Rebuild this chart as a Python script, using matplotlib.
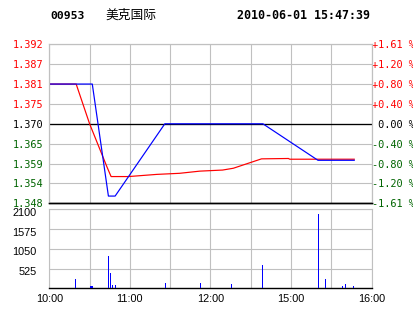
import matplotlib
matplotlib.use('Agg')
import matplotlib.pyplot as plt
import matplotlib.transforms as mtrans
import numpy as np

# --- data (minutes since 10:00, lunch break removed) ---
price_min = [0, 32, 44, 49, 86, 159, 200, 227]
price_val = [1.381, 1.381, 1.350, 1.350, 1.370, 1.370, 1.3599, 1.3599]

avg_min = [0, 20, 30, 43, 46, 59, 80, 97, 112, 129, 137, 158, 178, 179, 227]
avg_val = [1.381, 1.381, 1.370, 1.358, 1.3554, 1.3554, 1.3560, 1.3563, 1.3569,
           1.3572, 1.3577, 1.3603, 1.3604, 1.3602, 1.3602]

vol_min = [19, 30, 31, 32, 44, 45, 47, 49, 86, 112, 135, 158, 200, 205, 218, 220, 226]
vol_val = [250, 60, 60, 60, 860, 420, 100, 100, 140, 140, 110, 620, 1980, 250, 60, 110, 60]

price_labels = ['1.392', '1.387', '1.381', '1.375', '1.370', '1.365', '1.359', '1.354', '1.348']
pct_labels = ['+1.61 %', '+1.20 %', '+0.80 %', '+0.40 %', ' 0.00 %',
              '-0.40 %', '-0.80 %', '-1.20 %', '-1.61 %']
vol_ticks = [525, 1050, 1575, 2100]
time_labels = ['10:00', '', '11:00', '', '12:00', '', '15:00', '', '16:00']

PRE_CLOSE = 1.370
LOW, HIGH = 1.348, 1.392
GRID = '#c0c0c0'
RED = '#ff0000'
GREEN = '#006400'
PX = 0.72  # one pixel in points at dpi 100

W, H = 414, 314
fig = plt.figure(figsize=(W / 100, H / 100), dpi=100)
fig.patch.set_facecolor('white')

ax = fig.add_axes([49.3 / W, 1 - 203.3 / H, 322.4 / W, 159 / H])
axv = fig.add_axes([49.3 / W, 1 - 288.3 / H, 322.4 / W, 79 / H])

xt = np.arange(0, 241, 30)

# price panel
ax.plot(avg_min, avg_val, color=RED, lw=PX * 1.2, zorder=3)
ax.plot(price_min, price_val, color='#0000ff', lw=PX * 1.2, zorder=4)
ax.axhline(PRE_CLOSE, color='black', lw=PX * 1.3, zorder=2)
ax.set_xlim(0, 240)
ax.set_ylim(LOW, HIGH)
ax.set_xticks(xt)
ax.set_xticklabels([])
yt = np.linspace(HIGH, LOW, 9)
ax.set_yticks(yt)
ax.set_yticklabels(price_labels, fontfamily='DejaVu Sans Mono', fontsize=7.4)
ax.grid(True, color=GRID, lw=PX * 1.1)
ax.tick_params(length=0, pad=4)
for i, lab in enumerate(ax.get_yticklabels()):
    lab.set_color(RED if i < 4 else ('black' if i == 4 else GREEN))

ax2 = ax.twinx()
ax2.set_ylim(LOW, HIGH)
ax2.set_yticks(yt)
ax2.set_yticklabels(pct_labels, fontfamily='DejaVu Sans Mono', fontsize=7.4)
ax2.tick_params(length=0, pad=0)
for i, lab in enumerate(ax2.get_yticklabels()):
    lab.set_color(RED if i < 4 else ('black' if i == 4 else GREEN))

for a in (ax, ax2):
    for s in ('left', 'right', 'top'):
        a.spines[s].set_color(GRID)
        a.spines[s].set_linewidth(PX * 1.1)
    a.spines['bottom'].set_color('black')
    a.spines['bottom'].set_linewidth(PX * 1.4)

# volume panel
axv.vlines(vol_min, 0, vol_val, color='#0000ff', lw=PX, antialiased=False, zorder=3)
axv.set_xlim(0, 240)
axv.set_ylim(0, 2100)
axv.set_xticks(xt)
axv.set_xticklabels(time_labels, fontfamily='Liberation Sans', fontsize=7.8)
axv.set_yticks(vol_ticks)
axv.set_yticklabels([str(v) for v in vol_ticks], fontfamily='Liberation Sans', fontsize=7.8)
axv.grid(True, color=GRID, lw=PX * 1.1)
axv.tick_params(length=0)
axv.tick_params(axis='y', pad=9)
axv.tick_params(axis='x', pad=4)
off = mtrans.ScaledTranslation(0, -0.025, fig.dpi_scale_trans)
for lab in axv.get_yticklabels():
    lab.set_transform(lab.get_transform() + off)
for s in ('left', 'right', 'top'):
    axv.spines[s].set_color(GRID)
    axv.spines[s].set_linewidth(PX * 1.1)
axv.spines['bottom'].set_color('black')
axv.spines['bottom'].set_linewidth(PX * 1.4)

# header
ty = 1 - 15.7 / H
fig.text(50 / W, ty, '00953', fontfamily='DejaVu Sans Mono', fontweight='bold',
         fontsize=8.2, va='center')
fig.text(105 / W, ty, '美克国际', fontfamily=['Noto Sans CJK SC', 'DejaVu Sans'],
         fontsize=9.2, va='center')
fig.text(370 / W, ty, '2010-06-01 15:47:39', fontfamily='DejaVu Sans Mono',
         fontweight='bold', fontsize=8.4, va='center', ha='right')

fig.savefig('out.png', dpi=100)
